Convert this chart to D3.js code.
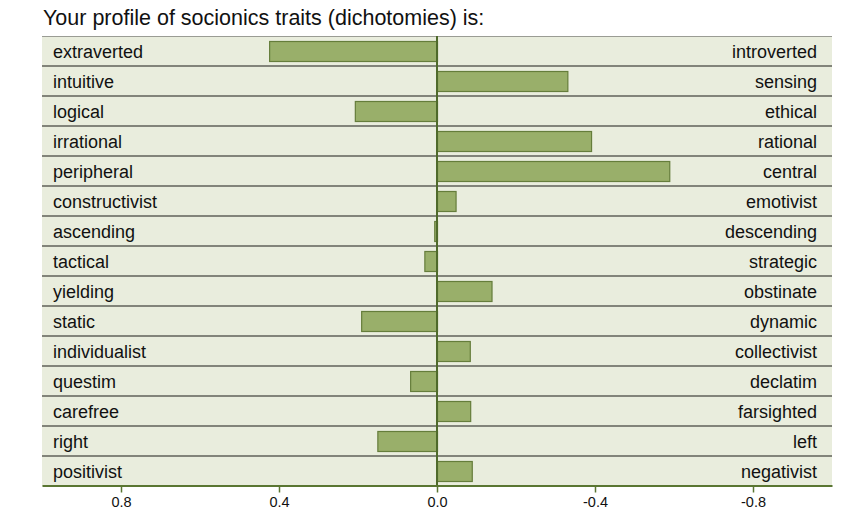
<!DOCTYPE html>
<html>
<head>
<meta charset="utf-8">
<script src="https://cdn.jsdelivr.net/npm/d3@7"></script>
<style>
  html, body { margin: 0; padding: 0; background: #ffffff; }
  svg { display: block; font-family: "Liberation Sans", Arial, Helvetica, sans-serif; }
</style>
</head>
<body>
<svg id="chart" width="853" height="523"></svg>
<script>
const titleText = "Your profile of socionics traits (dichotomies) is:";
const leftLabels = ["extraverted","intuitive","logical","irrational","peripheral","constructivist","ascending","tactical","yielding","static","individualist","questim","carefree","right","positivist"];
const rightLabels = ["introverted","sensing","ethical","rational","central","emotivist","descending","strategic","obstinate","dynamic","collectivist","declatim","farsighted","left","negativist"];
const values = [0.425, -0.33, 0.208, -0.39, -0.588, -0.047, 0.007, 0.032, -0.138, 0.192, -0.083, 0.068, -0.084, 0.151, -0.088];
const tickValues = [0.8, 0.4, 0.0, -0.4, -0.8];

const svg = d3.select("#chart");
const plotLeft = 42, plotRight = 832, plotTop = 36, plotBottom = 486;

const x = d3.scaleLinear().domain([1, -1]).range([plotLeft, plotRight]);
const rows = d3.scaleBand().domain(leftLabels).range([plotTop, plotBottom]).padding(0);
const yb = d3.scaleBand().domain(leftLabels).range([plotTop, plotBottom]).paddingInner(1/3).paddingOuter(1/6);

// title
svg.append("text").attr("x", 43).attr("y", 25)
  .attr("font-size", "21.5px").attr("fill", "#111").text(titleText);

// background
svg.append("rect").attr("x", plotLeft).attr("y", plotTop).attr("width", plotRight - plotLeft).attr("height", plotBottom - plotTop)
  .attr("fill", "#e9eddd");

// top border
svg.append("line").attr("x1", plotLeft).attr("x2", plotRight).attr("y1", plotTop + 0.5).attr("y2", plotTop + 0.5)
  .attr("stroke", "#9a9c94").attr("stroke-width", 1.2);

// row separators
svg.append("g").selectAll("line").data(leftLabels.slice(0, -1)).join("line")
  .attr("x1", plotLeft).attr("x2", plotRight)
  .attr("y1", d => rows(d) + rows.bandwidth())
  .attr("y2", d => rows(d) + rows.bandwidth())
  .attr("stroke", "#5f6158").attr("stroke-width", 1.3);

// bars
svg.append("g").selectAll("rect").data(values).join("rect")
  .attr("x", d => Math.min(x(d), x(0)) + 0.5)
  .attr("width", d => Math.abs(x(d) - x(0)))
  .attr("y", (d, i) => yb(leftLabels[i]) + 0.5)
  .attr("height", yb.bandwidth())
  .attr("fill", "#99af6a")
  .attr("stroke", "#657d3b").attr("stroke-width", 1.2);

// zero line
svg.append("line").attr("x1", x(0)).attr("x2", x(0)).attr("y1", plotTop).attr("y2", plotBottom)
  .attr("stroke", "#4f6a2b").attr("stroke-width", 2);

// labels
svg.append("g").selectAll("text").data(leftLabels).join("text")
  .attr("x", 53).attr("y", d => rows(d) + rows.bandwidth() / 2 + 6.5)
  .attr("font-size", "18px").attr("fill", "#111").text(d => d);
svg.append("g").selectAll("text").data(rightLabels).join("text")
  .attr("x", 817).attr("y", (d, i) => rows(leftLabels[i]) + rows.bandwidth() / 2 + 6.5)
  .attr("text-anchor", "end")
  .attr("font-size", "18px").attr("fill", "#111").text(d => d);

// axis
const axis = d3.axisBottom(x).tickValues(tickValues).tickFormat(d => d.toFixed(1)).tickSize(7).tickSizeOuter(0).tickPadding(4);
const gx = svg.append("g").attr("transform", `translate(0,${plotBottom - 0.5})`).call(axis);
gx.select(".domain").attr("stroke", "#5a7632").attr("stroke-width", 2);
gx.selectAll(".tick line").attr("stroke", "#5a7632").attr("stroke-width", 1.5);
gx.selectAll(".tick text").attr("font-size", "14.5px").attr("fill", "#111")
  .attr("font-family", "\"Liberation Sans\", Arial, sans-serif");
</script>
</body>
</html>
